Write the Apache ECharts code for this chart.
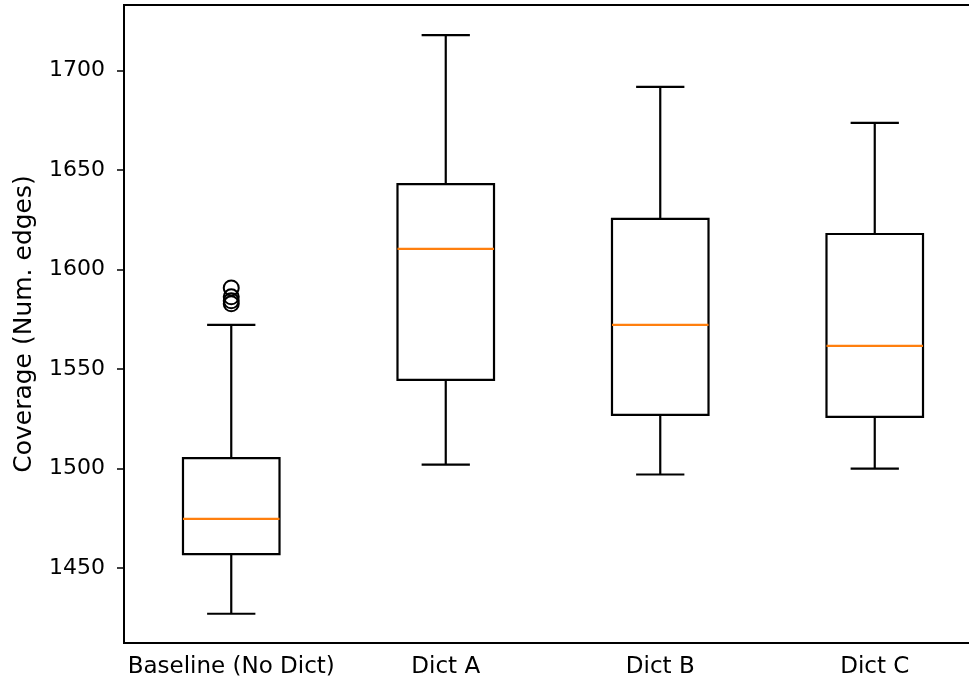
<!DOCTYPE html>
<html>
<head>
<meta charset="utf-8">
<script src="https://cdn.jsdelivr.net/npm/echarts@6/dist/echarts.min.js"></script>
<style>
  html, body { margin: 0; padding: 0; background: #fff; }
  #main { width: 969px; height: 684px; }
</style>
</head>
<body>
<div id="main"></div>
<script>
// box statistics
var categories = ['Baseline (No Dict)', 'Dict A', 'Dict B', 'Dict C'];
var whiskerLow = [1427, 1502, 1497, 1500];
var q1 = [1457, 1544.6, 1527, 1526];
var median = [1474.7, 1610.4, 1572.2, 1561.7];
var q3 = [1505.2, 1643, 1625.5, 1617.9];
var whiskerHigh = [1572.2, 1717.9, 1691.8, 1673.7];
var outliers = [[0, 1590.8], [0, 1586.3], [0, 1584.3], [0, 1582.8]];
var yTicks = [1450, 1500, 1550, 1600, 1650, 1700];

var boxData = categories.map(function (c, i) {
    return [i, whiskerLow[i], q1[i], median[i], q3[i], whiskerHigh[i]];
});

var font = 'DejaVu Sans';

function renderBox(params, api) {
    var idx = api.value(0);
    var band = api.size([1, 0])[0];
    var half = band * 0.45 / 2;
    var cap = half / 2;
    var pLow = api.coord([idx, api.value(1)]);
    var pQ1 = api.coord([idx, api.value(2)]);
    var pMed = api.coord([idx, api.value(3)]);
    var pQ3 = api.coord([idx, api.value(4)]);
    var pHigh = api.coord([idx, api.value(5)]);
    var x = pQ1[0];
    var line = { stroke: '#000', lineWidth: 2.2 };
    return {
        type: 'group',
        children: [
            { type: 'line', shape: { x1: x, y1: pLow[1], x2: x, y2: pQ1[1] }, style: line },
            { type: 'line', shape: { x1: x, y1: pQ3[1], x2: x, y2: pHigh[1] }, style: line },
            { type: 'line', shape: { x1: x - cap, y1: pLow[1], x2: x + cap, y2: pLow[1] }, style: line },
            { type: 'line', shape: { x1: x - cap, y1: pHigh[1], x2: x + cap, y2: pHigh[1] }, style: line },
            { type: 'rect', shape: { x: x - half, y: pQ3[1], width: half * 2, height: pQ1[1] - pQ3[1] },
              style: { fill: 'none', stroke: '#000', lineWidth: 2.2 } },
            { type: 'line', shape: { x1: x - half, y1: pMed[1], x2: x + half, y2: pMed[1] },
              style: { stroke: '#ff7f0e', lineWidth: 2.2 } }
        ]
    };
}

var myChart = echarts.init(document.getElementById('main'));

var option = {
    animation: false,
    grid: {
        left: 124,
        top: 5,
        right: -13,
        bottom: 41,
        outerBoundsMode: 'none',
        show: true,
        borderColor: '#000',
        borderWidth: 2
    },
    xAxis: {
        type: 'category',
        data: categories,
        boundaryGap: true,
        axisLine: { lineStyle: { color: '#000', width: 2 } },
        axisTick: { alignWithLabel: true, length: 7, lineStyle: { color: '#000', width: 1.5 } },
        axisLabel: { color: '#000', fontFamily: font, fontSize: 23, margin: 13, interval: 0, hideOverlap: false },
        splitLine: { show: false }
    },
    yAxis: {
        type: 'value',
        min: 1412.3,
        max: 1733,
        name: 'Coverage (Num. edges)',
        nameLocation: 'middle',
        nameGap: 87,
        nameTextStyle: { color: '#000', fontFamily: font, fontSize: 25 },
        axisLine: { show: true, lineStyle: { color: '#000', width: 2 } },
        axisTick: { show: true, length: 7, customValues: yTicks, lineStyle: { color: '#000', width: 1.5 } },
        axisLabel: {
            color: '#000', fontFamily: font, fontSize: 22, margin: 19, customValues: yTicks,
            formatter: function (v) { return String(v); }
        },
        splitLine: { show: false }
    },
    series: [
        {
            type: 'custom',
            renderItem: renderBox,
            encode: { x: 0, y: [1, 2, 3, 4, 5] },
            data: boxData
        },
        {
            type: 'scatter',
            symbol: 'circle',
            symbolSize: 15,
            itemStyle: { color: 'rgba(0,0,0,0)', borderColor: '#000', borderWidth: 2, opacity: 1 },
            data: outliers
        }
    ]
};

myChart.setOption(option);
</script>
</body>
</html>
